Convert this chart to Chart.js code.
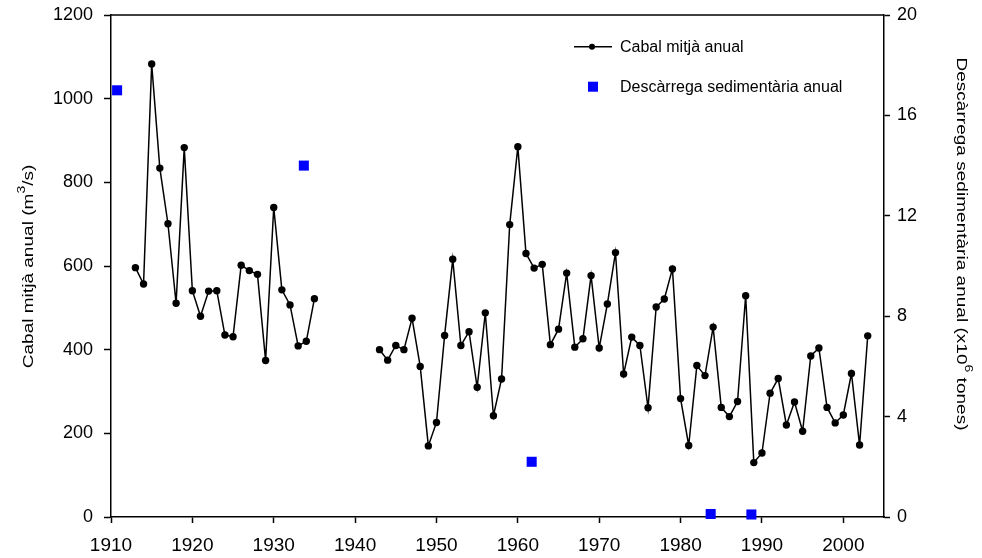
<!DOCTYPE html>
<html>
<head>
<meta charset="utf-8">
<script src="https://cdn.jsdelivr.net/npm/chart.js@4.4.1/dist/chart.umd.min.js"></script>
<style>
  html, body { margin: 0; padding: 0; background: #fff; }
  #wrap { width: 982px; height: 558px; }
</style>
</head>
<body>
<div id="wrap"><canvas id="c"></canvas></div>
<script>
// Annual mean discharge (m3/s); null years break the line (no records 1936-1942)
const flowYears = [
  1913, 1914, 1915, 1916, 1917, 1918, 1919, 1920, 1921, 1922, 1923, 1924, 1925,
  1926, 1927, 1928, 1929, 1930, 1931, 1932, 1933, 1934, 1935, 1936,
  1943, 1944, 1945, 1946, 1947, 1948, 1949, 1950, 1951, 1952, 1953, 1954, 1955,
  1956, 1957, 1958, 1959, 1960, 1961, 1962, 1963, 1964, 1965, 1966, 1967, 1968,
  1969, 1970, 1971, 1972, 1973, 1974, 1975, 1976, 1977, 1978, 1979, 1980, 1981,
  1982, 1983, 1984, 1985, 1986, 1987, 1988, 1989, 1990, 1991, 1992, 1993, 1994,
  1995, 1996, 1997, 1998, 1999, 2000, 2001, 2002, 2003
];
const flowValues = [
  596, 557, 1083, 834, 701, 511, 883, 541, 480, 540, 541, 435, 431,
  602, 589, 580, 374, 740, 543, 507, 409, 420, 522, null,
  400, 375, 410, 400, 475, 360, 170, 226, 434, 616, 410, 443, 310,
  488, 242, 330, 699, 885, 630, 595, 604, 412, 449, 583, 406, 426,
  577, 404, 509, 632, 342, 430, 410, 261, 502, 521, 593, 283, 171,
  362, 338, 454, 262, 240, 276, 529, 130, 153, 296, 331, 220, 275,
  205, 385, 404, 262, 225, 244, 343, 172, 433
];

// Annual sediment discharge (x10^6 tonnes)
const sedYears = [1910.75, 1933.7, 1961.7, 1983.7, 1988.7];
const sedValues = [17.0, 14.0, 2.2, 0.12, 0.1];

// Tick labels
const xTicks = [1910, 1920, 1930, 1940, 1950, 1960, 1970, 1980, 1990, 2000];
const leftTicks = [0, 200, 400, 600, 800, 1000, 1200];
const rightTicks = [0, 4, 8, 12, 16, 20];

const FONT = '"Liberation Sans", Arial, Helvetica, sans-serif';

const flowLabel = 'Cabal mitjà anual';
const sedLabel = 'Descàrrega sedimentària anual';

// Rotated axis titles with superscripts, slightly widened along the text
function drawTitle(ctx, parts, cx, cy, angle) {
  const stretch = 1.27;
  const mainFont = '15px ' + FONT;
  const supFont = '11px ' + FONT;
  ctx.save();
  ctx.translate(cx, cy);
  ctx.rotate(angle);
  ctx.scale(stretch, 1);
  ctx.fillStyle = '#000';
  ctx.textBaseline = 'alphabetic';
  ctx.textAlign = 'left';
  let total = 0;
  parts.forEach(p => {
    ctx.font = p.sup ? supFont : mainFont;
    p.w = ctx.measureText(p.text).width;
    total += p.w;
  });
  let x = -total / 2;
  const base = 5.4;
  parts.forEach(p => {
    ctx.font = p.sup ? supFont : mainFont;
    ctx.fillText(p.text, x, p.sup ? base - 8 : base);
    x += p.w;
  });
  ctx.restore();
}

const decorations = {
  id: 'decorations',
  afterDraw(chart) {
    const ctx = chart.ctx;
    const area = chart.chartArea;

    // top frame line
    ctx.save();
    ctx.strokeStyle = '#000';
    ctx.lineWidth = 1.5;
    ctx.beginPath();
    ctx.moveTo(area.left, area.top);
    ctx.lineTo(area.right, area.top);
    ctx.stroke();
    ctx.restore();

    // axis titles
    drawTitle(ctx, [
      { text: 'Cabal mitjà anual (m' }, { text: '3', sup: true }, { text: '/s)' }
    ], 27.7, 266.5, -Math.PI / 2);
    drawTitle(ctx, [
      { text: 'Descàrrega sedimentària anual (x10' }, { text: '6', sup: true }, { text: ' tones)' }
    ], 962, 244, Math.PI / 2);

    // legend
    const ds0 = chart.data.datasets[0];
    const ds1 = chart.data.datasets[1];
    ctx.save();
    ctx.font = '16px ' + FONT;
    ctx.fillStyle = '#000';
    ctx.textBaseline = 'middle';
    ctx.textAlign = 'left';
    const y1 = 46.7, y2 = 86.7;
    ctx.strokeStyle = ds0.borderColor;
    ctx.lineWidth = ds0.borderWidth;
    ctx.beginPath();
    ctx.moveTo(574, y1);
    ctx.lineTo(612, y1);
    ctx.stroke();
    ctx.beginPath();
    ctx.arc(592, y1, 3, 0, Math.PI * 2);
    ctx.fillStyle = ds0.pointBackgroundColor;
    ctx.fill();
    ctx.fillStyle = '#000';
    ctx.fillText(ds0.label, 620, y1 + 1);
    ctx.fillStyle = ds1.backgroundColor;
    ctx.fillRect(588, y2 - 5, 10, 10);
    ctx.fillStyle = '#000';
    ctx.fillText(ds1.label, 620, y2 + 1);
    ctx.restore();
  }
};

const axisStyle = (tickLen) => ({
  grid: {
    drawOnChartArea: false,
    drawTicks: true,
    tickLength: tickLen,
    tickColor: '#000',
    tickWidth: 1.5,
    color: '#000'
  },
  border: { display: true, color: '#000', width: 1.5 }
});

// fixed axis sizes so the plot area sits at 111..884 x 15..517
const fixVertical = (width) => s => {
  s.width = width;
  s.paddingTop = 0;
  s.paddingBottom = 0;
};

new Chart(document.getElementById('c'), {
  type: 'line',
  data: {
    datasets: [
      {
        label: flowLabel,
        data: flowYears.map((x, i) => ({ x: x, y: flowValues[i] })),
        borderColor: '#000',
        borderWidth: 1.5,
        pointRadius: 3.7,
        pointBackgroundColor: '#000',
        pointBorderWidth: 0,
        pointHoverRadius: 3.7,
        spanGaps: false,
        tension: 0,
        yAxisID: 'y'
      },
      {
        type: 'scatter',
        label: sedLabel,
        data: sedYears.map((x, i) => ({ x: x, y: sedValues[i] })),
        pointStyle: 'rect',
        pointRadius: 7.1,
        pointHoverRadius: 7.1,
        backgroundColor: '#0000ff',
        borderColor: '#0000ff',
        borderWidth: 0,
        showLine: false,
        clip: false,
        yAxisID: 'y1'
      }
    ]
  },
  options: {
    responsive: true,
    maintainAspectRatio: false,
    animation: false,
    devicePixelRatio: 1,
    layout: { padding: { top: 15, left: 0, right: 0, bottom: 0 } },
    plugins: {
      legend: { display: false },
      tooltip: { enabled: false },
      title: { display: false }
    },
    scales: {
      x: Object.assign({
        type: 'linear',
        min: 1910,
        max: 2005,
        afterBuildTicks: s => { s.ticks = xTicks.map(v => ({ value: v })); },
        afterFit: s => { s.height = 41; },
        ticks: {
          autoSkip: false,
          maxRotation: 0,
          padding: 11,
          color: '#000',
          font: { family: FONT, size: 19 },
          callback: v => String(v)
        }
      }, axisStyle(6)),
      y: Object.assign({
        type: 'linear',
        position: 'left',
        min: 0,
        max: 1200,
        afterBuildTicks: s => { s.ticks = leftTicks.map(v => ({ value: v })); },
        afterFit: fixVertical(111),
        ticks: {
          padding: 11,
          color: '#000',
          font: { family: FONT, size: 18 },
          callback: v => String(v)
        }
      }, axisStyle(7)),
      y1: Object.assign({
        type: 'linear',
        position: 'right',
        min: 0,
        max: 20,
        afterBuildTicks: s => { s.ticks = rightTicks.map(v => ({ value: v })); },
        afterFit: fixVertical(98),
        ticks: {
          padding: 7,
          color: '#000',
          font: { family: FONT, size: 18 },
          callback: v => String(v)
        }
      }, axisStyle(6))
    }
  },
  plugins: [decorations]
});
</script>
</body>
</html>
